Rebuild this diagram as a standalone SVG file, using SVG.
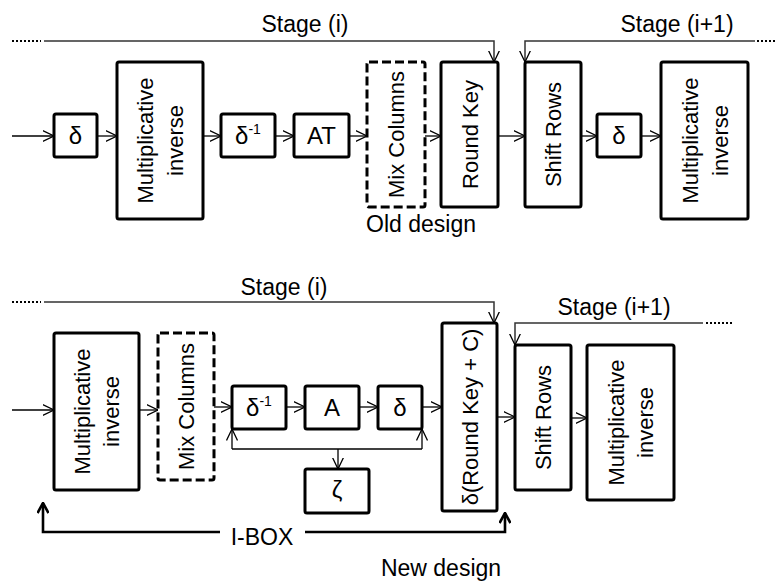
<svg xmlns="http://www.w3.org/2000/svg" width="777" height="583" viewBox="0 0 777 583">
<defs>
<style>
.box{fill:#fff;stroke:#000;stroke-width:3;}
.dash{fill:#fff;stroke:#000;stroke-width:3;stroke-dasharray:9 4;}
.t{font-family:"Liberation Sans",Arial,sans-serif;font-size:22px;fill:#000;text-anchor:middle;}
.g{font-family:"Liberation Sans",Arial,sans-serif;font-size:24px;fill:#000;text-anchor:middle;}
.lbl{font-family:"Liberation Sans",Arial,sans-serif;font-size:23px;fill:#000;text-anchor:middle;}
.c{fill:none;stroke:#000;stroke-width:1.3;}
.cs{fill:none;stroke:#333;stroke-width:1.5;}
.dot{fill:none;stroke:#000;stroke-width:2;stroke-dasharray:2 2;}
.bold{fill:none;stroke:#000;stroke-width:2.6;}
</style>
<marker id="a" viewBox="0 0 12 12" refX="11.5" refY="6" markerWidth="12" markerHeight="12" markerUnits="userSpaceOnUse" orient="auto">
<path d="M0,0.5 L11.5,6 L0,11.5" fill="none" stroke="#000" stroke-width="1.3"/>
</marker>
<marker id="b" viewBox="0 0 12 12" refX="11" refY="6" markerWidth="12" markerHeight="12" markerUnits="userSpaceOnUse" orient="auto">
<path d="M1,0.5 L11,6 L1,11.5" fill="none" stroke="#000" stroke-width="2.6"/>
</marker>
</defs>

<g id="connectors">
<path class="dot" d="M12,41 H41"/>
<path class="cs" d="M44,41 H494 V62" marker-end="url(#a)"/>
<path class="dot" d="M757,41 H777"/>
<path class="cs" d="M755,41 H525 V62" marker-end="url(#a)"/>
<path class="c" d="M12,136 H54" marker-end="url(#a)"/>
<path class="c" d="M97,136 H117" marker-end="url(#a)"/>
<path class="c" d="M203,136 H221" marker-end="url(#a)"/>
<path class="c" d="M275,136 H294" marker-end="url(#a)"/>
<path class="c" d="M349,136 H367" marker-end="url(#a)"/>
<path class="c" d="M425,136 H441" marker-end="url(#a)"/>
<path class="c" d="M498,136 H525" marker-end="url(#a)"/>
<path class="c" d="M581,136 H597" marker-end="url(#a)"/>
<path class="c" d="M641,136 H661" marker-end="url(#a)"/>
<path class="dot" d="M12,302 H41"/>
<path class="cs" d="M44,302 H494 V323" marker-end="url(#a)"/>
<path class="dot" d="M706,323 H732"/>
<path class="cs" d="M703,323 H515 V345" marker-end="url(#a)"/>
<path class="c" d="M12,410 H54" marker-end="url(#a)"/>
<path class="c" d="M139,410 H158" marker-end="url(#a)"/>
<path class="c" d="M214,407 H232" marker-end="url(#a)"/>
<path class="c" d="M286,407 H305" marker-end="url(#a)"/>
<path class="c" d="M359,407 H378" marker-end="url(#a)"/>
<path class="c" d="M422,407 H442" marker-end="url(#a)"/>
<path class="c" d="M497,417 H515" marker-end="url(#a)"/>
<path class="c" d="M571,418 H587" marker-end="url(#a)"/>
<path class="c" d="M232,449 H422"/>
<path class="c" d="M232,449 V429" marker-end="url(#a)"/>
<path class="c" d="M422,449 V429" marker-end="url(#a)"/>
<path class="c" d="M338,449 V469" marker-end="url(#a)"/>
<path class="bold" d="M220,532 H43 V503" marker-end="url(#b)"/>
<path class="bold" d="M305,532 H505 V513" marker-end="url(#b)"/>
</g>

<g id="t-delta1"><rect class="box" x="54" y="114" width="43" height="43" rx="2"/><text class="g" x="75.5" y="144">δ</text></g>
<g id="t-mi1"><rect class="box" x="117" y="62" width="86" height="157" rx="2"/>
<g transform="translate(160,140.5) rotate(-90)"><text class="t" x="0" y="-7">Multiplicative</text><text class="t" x="0" y="23">inverse</text></g></g>
<g id="t-dinv"><rect class="box" x="221" y="114" width="54" height="43" rx="2"/><text class="g" x="248" y="144">δ<tspan font-size="14" dy="-10">-1</tspan></text></g>
<g id="t-at"><rect class="box" x="294" y="114" width="55" height="43" rx="2"/><text class="g" x="321.5" y="144">AT</text></g>
<g id="t-mc"><rect class="dash" x="367" y="62" width="58" height="145" rx="2"/>
<text class="t" transform="translate(396,134.5) rotate(-90)" x="0" y="8">Mix Columns</text></g>
<g id="t-rk"><rect class="box" x="441" y="62" width="57" height="145" rx="2"/>
<text class="t" transform="translate(469.5,134.5) rotate(-90)" x="0" y="8">Round Key</text></g>
<g id="t-sr"><rect class="box" x="525" y="62" width="56" height="145" rx="2"/>
<text class="t" transform="translate(553,134.5) rotate(-90)" x="0" y="8">Shift Rows</text></g>
<g id="t-delta2"><rect class="box" x="597" y="114" width="44" height="43" rx="2"/><text class="g" x="619" y="144">δ</text></g>
<g id="t-mi2"><rect class="box" x="661" y="62" width="87" height="157" rx="2"/>
<g transform="translate(704.5,140.5) rotate(-90)"><text class="t" x="0" y="-7">Multiplicative</text><text class="t" x="0" y="23">inverse</text></g></g>

<g id="b-mi1"><rect class="box" x="54" y="333" width="85" height="157" rx="2"/>
<g transform="translate(96.5,411.5) rotate(-90)"><text class="t" x="0" y="-7">Multiplicative</text><text class="t" x="0" y="22">inverse</text></g></g>
<g id="b-mc"><rect class="dash" x="158" y="333" width="56" height="147" rx="2"/>
<text class="t" transform="translate(186,406.5) rotate(-90)" x="0" y="8">Mix Columns</text></g>
<g id="b-dinv"><rect class="box" x="232" y="386" width="54" height="43" rx="2"/><text class="g" x="259" y="416">δ<tspan font-size="14" dy="-10">-1</tspan></text></g>
<g id="b-a"><rect class="box" x="305" y="386" width="54" height="43" rx="2"/><text class="g" x="332" y="416">A</text></g>
<g id="b-delta"><rect class="box" x="378" y="386" width="44" height="43" rx="2"/><text class="g" x="400" y="416">δ</text></g>
<g id="b-zeta"><rect class="box" x="305" y="469" width="64" height="44" rx="2"/><text class="g" x="337" y="498">ζ</text></g>
<g id="b-rkc"><rect class="box" x="442" y="323" width="55" height="188" rx="2"/>
<text class="t" transform="translate(469.5,417) rotate(-90)" x="0" y="8">δ(Round Key + C)</text></g>
<g id="b-sr"><rect class="box" x="515" y="345" width="56" height="145" rx="2"/>
<text class="t" transform="translate(543,417.5) rotate(-90)" x="0" y="8">Shift Rows</text></g>
<g id="b-mi2"><rect class="box" x="587" y="345" width="87" height="155" rx="2"/>
<g transform="translate(630.5,422.5) rotate(-90)"><text class="t" x="0" y="-6.5">Multiplicative</text><text class="t" x="0" y="22.5">inverse</text></g></g>

<g id="labels">
<text class="lbl" x="305" y="32">Stage (i)</text>
<text class="lbl" x="677" y="32">Stage (i+1)</text>
<text class="lbl" x="421" y="232">Old design</text>
<text class="lbl" x="284" y="295">Stage (i)</text>
<text class="lbl" x="614" y="315">Stage (i+1)</text>
<text class="lbl" x="262" y="545">I-BOX</text>
<text class="lbl" x="441" y="576" font-size="24">New design</text>
</g>
</svg>
